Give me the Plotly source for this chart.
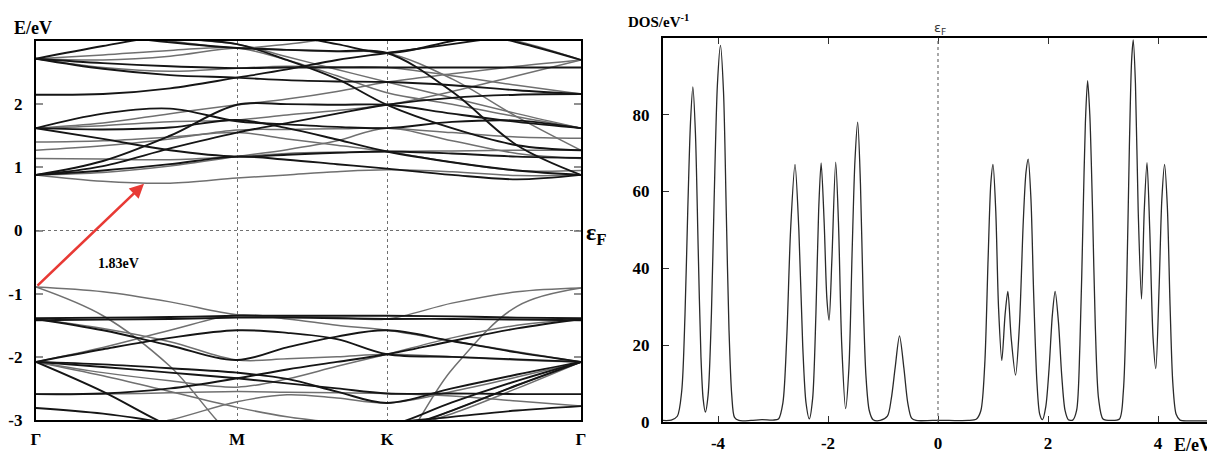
import plotly.graph_objects as go

# page offset (default body margin) and paper size
OX, OY = 8, 8
PW, PH = 1215 - OX, 454 - OY


def X(px):
    return (px - OX) / PW


def Y(py):
    return 1 - (py - OY) / PH


# ---------------- band structure data ----------------
K_NODES = [0, 67, 134, 201, 251, 301, 351, 416, 481, 545]
K_TICKS = [0, 201, 351, 545]
K_LABELS = ["Γ", "M", "K", "Γ"]
E_TICKS = [-3, -2, -1, 0, 1, 2, 3]
E_LABELS = ["-3", "-2", "-1", "0", "1", "2", ""]

CB_BLACK = [
    [0.88, 0.95, 1.05, 1.17, 1.12, 1.05, 0.98, 0.88, 0.81, 0.88],
    [0.88, 1.10, 1.50, 1.99, 2.00, 1.99, 1.99, 1.85, 1.72, 1.62],
    [1.62, 1.85, 1.93, 1.73, 1.68, 1.64, 1.62, 1.72, 1.74, 1.62],
    [1.62, 1.45, 1.27, 1.17, 1.20, 1.23, 1.25, 1.22, 1.17, 1.15],
    [1.62, 1.60, 1.63, 1.75, 1.62, 1.44, 1.25, 1.08, 0.95, 0.88],
    [2.15, 2.16, 2.25, 2.42, 2.55, 2.70, 2.81, 2.95, 3.10, 3.25],
    [2.72, 2.56, 2.46, 2.42, 2.38, 2.36, 2.35, 2.30, 2.22, 2.16],
    [2.72, 2.92, 3.10, 3.20, 3.10, 2.95, 2.81, 3.00, 3.20, 3.35],
    [3.25, 3.10, 2.98, 2.89, 2.86, 2.84, 2.81, 2.20, 1.35, 0.88],
    [2.72, 2.65, 2.60, 2.57, 2.58, 2.58, 2.58, 2.58, 2.58, 2.58],
    [3.25, 3.15, 3.05, 2.95, 2.70, 2.40, 1.99, 1.62, 1.35, 1.27],
    [0.88, 1.02, 1.30, 1.55, 1.70, 1.85, 1.99, 2.10, 2.15, 2.16],
    [3.40, 3.40, 3.30, 3.20, 3.25, 3.30, 3.30, 3.20, 2.98, 2.70],
]
CB_GRAY = [
    [0.88, 0.78, 0.75, 0.83, 0.88, 0.93, 0.96, 0.93, 0.87, 0.88],
    [0.88, 0.92, 1.02, 1.17, 1.28, 1.42, 1.62, 1.42, 1.22, 1.14],
    [1.14, 1.13, 1.12, 1.17, 1.22, 1.24, 1.25, 1.26, 1.27, 1.27],
    [1.27, 1.34, 1.45, 1.59, 1.60, 1.61, 1.62, 1.55, 1.48, 1.46],
    [1.62, 1.66, 1.72, 1.75, 1.83, 1.90, 1.99, 2.20, 2.45, 2.70],
    [1.62, 1.70, 1.85, 1.99, 2.08, 2.20, 2.35, 2.48, 2.60, 2.70],
    [2.72, 2.58, 2.52, 2.57, 2.60, 2.59, 2.58, 2.45, 2.30, 2.16],
    [2.72, 2.70, 2.76, 2.89, 2.86, 2.83, 2.81, 2.40, 1.80, 1.27],
    [3.30, 3.15, 3.00, 2.89, 2.95, 3.05, 3.15, 3.20, 3.00, 2.70],
    [2.72, 2.78, 2.85, 2.89, 2.70, 2.45, 2.18, 2.00, 1.80, 1.62],
    [1.40, 1.42, 1.48, 1.55, 1.45, 1.35, 1.25, 1.08, 0.95, 0.95],
    [3.30, 3.20, 3.05, 2.95, 2.75, 2.55, 2.35, 2.10, 1.85, 1.62],
]
VB_BLACK = [
    [-1.39, -1.38, -1.37, -1.35, -1.35, -1.35, -1.35, -1.36, -1.38, -1.39],
    [-1.42, -1.41, -1.40, -1.38, -1.38, -1.39, -1.40, -1.40, -1.41, -1.42],
    [-1.40, -1.58, -1.82, -2.05, -1.85, -1.68, -1.58, -1.75, -1.93, -2.08],
    [-2.08, -1.88, -1.70, -1.58, -1.62, -1.72, -1.96, -2.00, -2.04, -2.08],
    [-2.08, -2.16, -2.25, -2.34, -2.42, -2.50, -2.58, -2.58, -2.59, -2.59],
    [-2.08, -2.55, -3.10, -3.50, -3.50, -3.40, -3.20, -2.85, -2.45, -2.08],
    [-2.59, -2.58, -2.50, -2.34, -2.20, -2.08, -1.96, -1.75, -1.55, -1.40],
    [-2.81, -2.90, -3.05, -3.20, -3.20, -3.15, -3.05, -2.95, -2.85, -2.78],
    [-2.08, -2.12, -2.18, -2.25, -2.35, -2.55, -2.73, -2.50, -2.28, -2.08],
    [-3.50, -3.45, -3.35, -3.25, -3.20, -3.15, -3.10, -2.72, -2.38, -2.08],
]
VB_GRAY = [
    [-0.895, -0.97, -1.13, -1.335, -1.36, -1.38, -1.40, -1.15, -0.97, -0.91],
    [-0.895, -1.35, -2.15, -3.30, -3.60, -3.70, -3.60, -2.20, -1.20, -0.91],
    [-1.40, -1.55, -1.76, -2.05, -2.03, -2.00, -1.96, -2.00, -2.05, -2.08],
    [-2.08, -1.85, -1.58, -1.335, -1.40, -1.50, -1.58, -1.75, -1.92, -2.08],
    [-2.08, -2.25, -2.38, -2.48, -2.35, -2.15, -1.96, -1.70, -1.50, -1.40],
    [-2.59, -2.59, -2.57, -2.55, -2.56, -2.57, -2.58, -2.62, -2.70, -2.78],
    [-3.30, -3.20, -3.00, -2.71, -2.60, -2.65, -2.73, -2.55, -2.32, -2.08],
    [-2.08, -2.30, -2.55, -2.80, -2.95, -3.05, -3.20, -2.85, -2.45, -2.08],
    [-3.60, -3.55, -3.45, -3.35, -3.30, -3.25, -3.20, -2.90, -2.50, -2.08],
]

GAP_START = (0, -0.895)
GAP_END = (108, 0.74)
GAP_LABEL = "1.83eV"
GAP_LABEL_POS = (82, -0.52)

# ---------------- DOS data ----------------
DOS_E = [-5.00, -4.85, -4.74, -4.66, -4.60, -4.55, -4.50, -4.457, -4.41, -4.36,
         -4.31, -4.27, -4.23, -4.18, -4.12, -4.07, -4.01, -3.955, -3.90, -3.85,
         -3.80, -3.75, -3.70, -3.62, -3.40, -3.20, -3.00, -2.90, -2.82, -2.75,
         -2.68, -2.60, -2.53, -2.46, -2.40, -2.34, -2.28, -2.22, -2.17, -2.125,
         -2.07, -2.02, -1.98, -1.93, -1.86, -1.81, -1.75, -1.68, -1.62, -1.56,
         -1.51, -1.46, -1.41, -1.36, -1.31, -1.25, -1.18, -1.05, -0.92, -0.85,
         -0.78, -0.70, -0.62, -0.55, -0.48, -0.40, -0.10, 0.20, 0.55, 0.70,
         0.78, 0.85, 0.91, 0.96, 1.00, 1.05, 1.10, 1.16, 1.22, 1.27,
         1.33, 1.41, 1.48, 1.55, 1.60, 1.64, 1.69, 1.74, 1.80, 1.85,
         1.90, 1.96, 2.02, 2.08, 2.13, 2.19, 2.25, 2.31, 2.37, 2.45,
         2.52, 2.58, 2.64, 2.68, 2.72, 2.76, 2.81, 2.86, 2.92, 3.00,
         3.15, 3.30, 3.37, 3.43, 3.48, 3.52, 3.55, 3.59, 3.64, 3.70,
         3.75, 3.80, 3.85, 3.91, 3.96, 4.02, 4.07, 4.12, 4.17, 4.22,
         4.27, 4.33, 4.40, 4.55, 4.80, 5.00]
DOS_V = [0.4, 0.5, 1.5, 8, 28, 55, 78, 87.2, 75, 45,
         17, 6, 2.6, 7, 28, 58, 88, 98, 86, 55,
         24, 7, 1.2, 0.4, 0.4, 0.6, 0.5, 0.8, 5, 22,
         50, 67, 50, 20, 5, 0.8, 6, 28, 55, 67.4,
         52, 32, 26.5, 42, 67.6, 52, 20, 3.5, 14, 45,
         68, 78, 62, 32, 12, 3, 0.6, 0.4, 1.5, 6,
         14, 22.4, 14, 5, 1, 0.4, 0.4, 0.4, 0.4, 0.8,
         3, 15, 42, 62, 67, 55, 30, 16, 28, 34,
         22, 12.2, 25, 52, 65, 68.4, 58, 33, 10, 2,
         0.6, 4, 14, 28, 34, 26, 12, 3, 0.6, 0.5,
         3, 20, 55, 78, 88.8, 80, 55, 25, 6, 0.8,
         0.4, 0.8, 8, 35, 72, 94, 99.4, 88, 55, 32,
         55, 67.5, 50, 22, 13.9, 35, 58, 67, 56, 30,
         10, 2, 0.5, 0.3, 0.3, 0.3]
DOS_XTICKS = [-4, -2, 0, 2, 4]
DOS_XLABELS = ["-4", "-2", "0", "2", "4"]
DOS_YTICKS = [0, 20, 40, 60, 80, 100]
DOS_YLABELS = ["0", "20", "40", "60", "80", ""]

SERIF = "Liberation Serif"
BLACK = "#151515"
GRAY = "#707070"

fig = go.Figure()


def add_bands(bands, color, width):
    for b in bands:
        fig.add_trace(go.Scatter(x=K_NODES, y=b, mode="lines", xaxis="x", yaxis="y",
                                 line=dict(color=color, width=width, shape="spline", smoothing=1.0),
                                 showlegend=False, hoverinfo="skip"))


add_bands(CB_GRAY, GRAY, 1.5)
add_bands(VB_GRAY, GRAY, 1.5)
add_bands(CB_BLACK, BLACK, 1.9)
add_bands(VB_BLACK, BLACK, 1.9)

fig.add_trace(go.Scatter(x=DOS_E, y=DOS_V, mode="lines", xaxis="x2", yaxis="y2",
                         line=dict(color="#2a2a2a", width=1.3, shape="spline", smoothing=0.8),
                         showlegend=False, hoverinfo="skip"))

tickfont = dict(family=SERIF, size=17, color="black", weight="bold")

fig.update_layout(
    width=PW, height=PH,
    margin=dict(l=0, r=0, t=0, b=0, autoexpand=False),
    paper_bgcolor="white", plot_bgcolor="white",
    xaxis=dict(domain=[X(36), X(581)], range=[0, 545], tickvals=K_TICKS, ticktext=K_LABELS,
               ticks="", showgrid=True, gridcolor="#707070", griddash="dot", gridwidth=1,
               showline=True, mirror=True, linecolor="black", linewidth=2.2, zeroline=False,
               tickfont=tickfont, ticklabelstandoff=2, automargin=False),
    yaxis=dict(domain=[Y(420), Y(41)], range=[-3, 3], tickvals=E_TICKS, ticktext=E_LABELS,
               ticks="inside", ticklen=7, tickcolor="#909090", tickwidth=1.5, showgrid=False,
               showline=True, mirror="ticks", linecolor="black", linewidth=2.2, zeroline=False,
               tickfont=tickfont, ticklabelstandoff=8, automargin=False),
    xaxis2=dict(domain=[X(663), X(1213)], range=[-5, 5], tickvals=DOS_XTICKS, ticktext=DOS_XLABELS,
                anchor="y2",
                ticks="inside", ticklen=6, tickcolor="#303030", tickwidth=1.2, showgrid=False,
                showline=True, mirror="ticks", linecolor="black", linewidth=2.4, zeroline=False,
                tickfont=tickfont, ticklabelstandoff=4, automargin=False),
    yaxis2=dict(domain=[Y(422), Y(37.7)], range=[0, 100], tickvals=DOS_YTICKS,
                ticktext=DOS_YLABELS, anchor="x2",
                ticks="inside", ticklen=6, tickcolor="#303030", tickwidth=1.2, showgrid=False,
                showline=True, mirror="ticks", linecolor="black", linewidth=2.4, zeroline=False,
                tickfont=tickfont, ticklabelstandoff=8, automargin=False),
)

# Fermi level lines
fig.add_shape(type="line", xref="x domain", yref="y", x0=0, x1=1, y0=0, y1=0,
              line=dict(color="#707070", width=1, dash="dot"))
fig.add_shape(type="line", xref="x2", yref="y2 domain", x0=0, x1=0, y0=0, y1=1,
              line=dict(color="#707070", width=1.2, dash="dot"))

# gap arrow
fig.add_annotation(x=GAP_END[0], y=GAP_END[1], ax=GAP_START[0], ay=GAP_START[1],
                   xref="x", yref="y", axref="x", ayref="y", text="", showarrow=True,
                   arrowhead=2, arrowsize=1.1, arrowwidth=2.6, arrowcolor="#e83a35")
fig.add_annotation(x=GAP_LABEL_POS[0], y=GAP_LABEL_POS[1], xref="x", yref="y", text=GAP_LABEL,
                   showarrow=False, font=dict(family=SERIF, size=14, color="black", weight="bold"))

# labels
fig.add_annotation(x=X(12), y=Y(28), xref="paper", yref="paper", text="E/eV",
                   xanchor="left", yanchor="middle", showarrow=False,
                   font=dict(family=SERIF, size=18, color="black", weight="bold"))
fig.add_annotation(x=X(584), y=Y(234), xref="paper", yref="paper", text="ε<sub>F</sub>",
                   xanchor="left", yanchor="middle", showarrow=False,
                   font=dict(family=SERIF, size=24, color="black", weight="bold"))
fig.add_annotation(x=X(626), y=Y(21), xref="paper", yref="paper", text="DOS/eV<sup>-1</sup>",
                   xanchor="left", yanchor="middle", showarrow=False,
                   font=dict(family=SERIF, size=15, color="black", weight="bold"))
fig.add_annotation(x=X(940), y=Y(28), xref="paper", yref="paper", text="ε<sub>F</sub>",
                   xanchor="center", yanchor="middle", showarrow=False,
                   font=dict(family="DejaVu Sans", size=13, color="#333333"))
fig.add_annotation(x=X(1172), y=Y(445), xref="paper", yref="paper", text="E/eV",
                   xanchor="left", yanchor="middle", showarrow=False,
                   font=dict(family=SERIF, size=18, color="black", weight="bold"))

fig.write_html("out.html")
